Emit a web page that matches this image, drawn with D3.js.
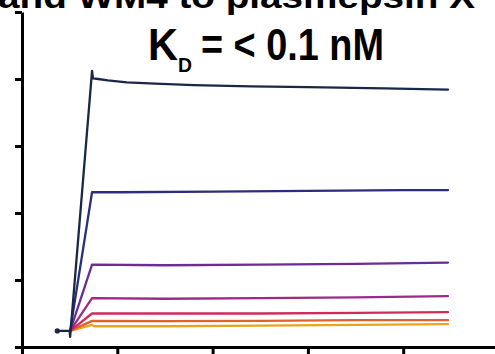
<!DOCTYPE html>
<html>
<head>
<meta charset="utf-8">
<script src="https://cdn.jsdelivr.net/npm/d3@7"></script>
<style>
  html, body { margin: 0; padding: 0; background: #fff; }
  svg { display: block; }
</style>
</head>
<body>
<div id="container"></div>
<script>
// sensorgram traces, [time (s), response (RU)]
const trace1 = [[36, 2.4], [50, 2.4], [50.5, 1.5], [73.5, 41.2], [74.5, 40.1], [80, 40.0], [90, 39.8], [110, 39.5], [140, 39.3], [180, 39.1], [240, 38.9], [300, 38.8], [380, 38.6], [447, 38.4]];
const trace2 = [[50.5, 2.4], [73.5, 23.1], [100, 23.1], [200, 23.2], [300, 23.3], [400, 23.4], [447, 23.4]];
const trace3 = [[50.5, 2.4], [73.5, 12.3], [150, 12.2], [250, 12.3], [350, 12.4], [447, 12.6]];
const trace4 = [[50.5, 2.4], [73.5, 7.3], [150, 7.2], [250, 7.3], [350, 7.4], [447, 7.6]];
const trace5 = [[50.5, 2.4], [73.5, 5.0], [150, 5.0], [250, 5.0], [350, 5.1], [447, 5.2]];
const trace6 = [[50.5, 2.4], [73.5, 3.9], [150, 3.85], [250, 3.9], [350, 4.0], [447, 4.0]];
const trace7 = [[50.5, 2.4], [73.5, 3.3], [76, 3.1], [150, 3.1], [250, 3.2], [350, 3.3], [447, 3.4]];
const traces = [trace7, trace6, trace5, trace4, trace3, trace2, trace1];
const traceColors = ["#e9a320", "#e0632e", "#d22a5d", "#9c2a88", "#6a2c96", "#2c2d7c", "#1a2747"];

const xTicks = [0, 100, 200, 300, 400, 500];
const yTicks = [0, 10, 20, 30, 40, 50];
const titleText = "and WM4 to plasmepsin X";

const width = 495, height = 354;

const x = d3.scaleLinear().domain([0, 500]).range([22, 498.5]);
const y = d3.scaleLinear().domain([0, 50]).range([347, 12]);

const svg = d3.select("#container")
  .append("svg")
    .attr("width", width)
    .attr("height", height);

// axes
svg.append("g")
    .attr("transform", "translate(" + x(0) + ",0)")
    .call(d3.axisLeft(y).tickValues(yTicks).tickSize(7).tickSizeOuter(0).tickFormat(""))
    .call(g => g.selectAll("path,line").attr("stroke", "#000").attr("stroke-width", 3));

svg.append("g")
    .attr("transform", "translate(0," + y(0) + ")")
    .call(d3.axisBottom(x).tickValues(xTicks).tickSize(8).tickSizeOuter(0).tickFormat(""))
    .call(g => g.selectAll("path,line").attr("stroke", "#000").attr("stroke-width", 3));

// traces
const line = d3.line().x(d => x(d[0])).y(d => y(d[1]));

svg.append("g")
    .attr("fill", "none")
    .attr("stroke-width", 2.3)
    .attr("stroke-linejoin", "round")
    .attr("stroke-linecap", "round")
  .selectAll("path")
  .data(traces)
  .join("path")
    .attr("stroke", (d, i) => traceColors[i])
    .attr("d", line);

// start marker of the baseline
svg.append("circle")
    .attr("cx", x(trace1[0][0]) + 1)
    .attr("cy", y(trace1[0][1]))
    .attr("r", 2.6)
    .attr("fill", traceColors[6]);

// cut-off heading at the top
svg.append("text")
    .attr("x", -2)
    .attr("y", 8)
    .attr("textLength", 477)
    .attr("lengthAdjust", "spacingAndGlyphs")
    .style("font-family", "'Liberation Sans', Arial, sans-serif")
    .style("font-weight", "bold")
    .style("font-size", "34px")
    .text(titleText);

// KD label
const kd = svg.append("g")
    .style("font-family", "'Liberation Sans Narrow', 'Liberation Sans', Arial, sans-serif")
    .style("font-weight", "bold")
    .attr("fill", "#000");
kd.append("text").attr("x", 148).attr("y", 60).style("font-size", "44px")
    .attr("textLength", 30).attr("lengthAdjust", "spacingAndGlyphs").text("K");
kd.append("text").attr("x", 178).attr("y", 72).style("font-size", "20px")
    .attr("textLength", 14).attr("lengthAdjust", "spacingAndGlyphs").text("D");
kd.append("text").attr("x", 201).attr("y", 60).style("font-size", "44px")
    .attr("textLength", 183).attr("lengthAdjust", "spacingAndGlyphs").text("= < 0.1 nM");
</script>
</body>
</html>
